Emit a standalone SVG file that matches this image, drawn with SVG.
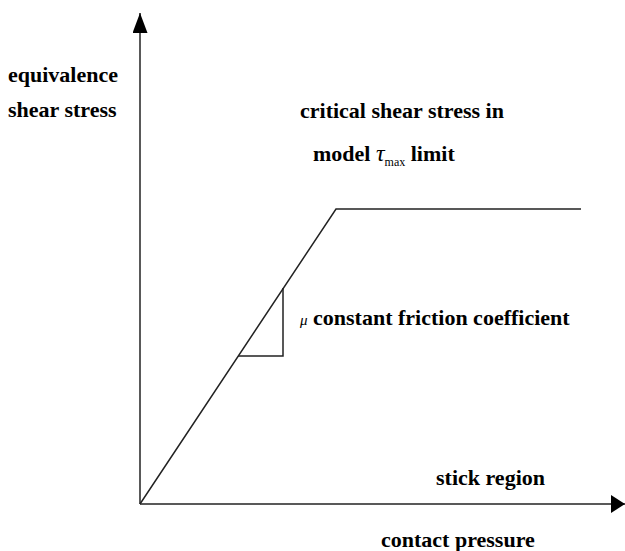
<svg xmlns="http://www.w3.org/2000/svg" width="625" height="551" viewBox="0 0 625 551">
<style>
text{font-family:'Liberation Serif','DejaVu Serif',serif;font-weight:bold;font-size:22px;fill:#000}
.ln{stroke:#222;stroke-width:1.5;fill:none}
</style>
<defs>
<marker id="ahv" markerWidth="20" markerHeight="15" refX="20" refY="7.5" orient="auto" markerUnits="userSpaceOnUse">
<path d="M0,0 L20,7.5 L0,15 Z" fill="#000"/>
</marker>
<marker id="ahh" markerWidth="14" markerHeight="18" refX="14" refY="9" orient="auto" markerUnits="userSpaceOnUse">
<path d="M0,0 L14,9 L0,18 Z" fill="#000"/>
</marker>
</defs>
<rect width="625" height="551" fill="#fff"/>
<g id="connectors">
<line class="ln" x1="140" y1="504" x2="140" y2="13" marker-end="url(#ahv)"/>
<line class="ln" x1="140" y1="504" x2="625" y2="504" marker-end="url(#ahh)"/>
<polyline class="ln" points="140,504 336,209 581,209"/>
<polyline class="ln" points="238,356 283,356 283,288"/>
</g>
<g id="y-label">
<text x="8" y="82">equivalence</text>
<text x="8" y="117">shear stress</text>
</g>
<g id="limit-label">
<text x="300" y="118">critical shear stress in</text>
<text x="313" y="161">model <tspan font-style="italic" font-weight="normal" font-size="24">τ</tspan><tspan font-weight="normal" font-size="12" dy="5">max</tspan><tspan dy="-5"> limit</tspan></text>
</g>
<g id="friction-label">
<text x="300" y="325"><tspan font-style="italic" font-weight="normal" font-size="15">μ</tspan> constant friction coefficient</text>
</g>
<g id="stick-label">
<text x="436" y="485">stick region</text>
</g>
<g id="x-label">
<text x="381" y="547">contact pressure</text>
</g>
</svg>
